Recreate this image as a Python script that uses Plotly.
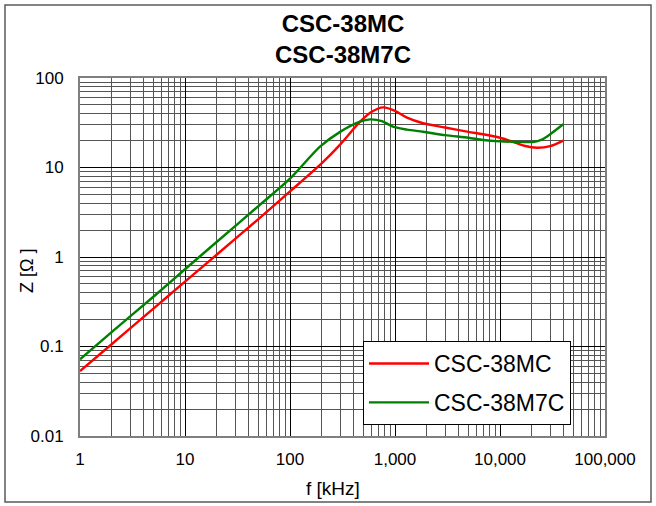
import plotly.graph_objects as go

# Data (frequency in kHz, impedance in ohm)
f_38mc = [1, 2, 5, 10, 20, 50, 100, 200, 300, 465, 600, 770, 1000, 1300, 1850, 3000, 5000, 6900, 10000, 13200, 17000, 22500, 30000, 40000]
z_38mc = [0.053, 0.106, 0.265, 0.53, 1.06, 2.65, 5.4, 11.1, 18, 32.5, 42, 47, 43, 36, 31.2, 28, 25, 23.5, 21.5, 19.4, 17.5, 16.6, 17.3, 20]

f_38m7c = [1, 2, 5, 10, 20, 50, 100, 193, 300, 465, 578, 750, 955, 1300, 1850, 3000, 5000, 6900, 10000, 13200, 20600, 25000, 30000, 40000]
z_38m7c = [0.072, 0.145, 0.36, 0.73, 1.47, 3.7, 7.5, 17.1, 25, 32.5, 34.5, 33, 28.6, 26.5, 25.1, 23, 21.5, 20.3, 19.6, 19.4, 19.3, 20.5, 23.5, 30.4]

x_tickvals = [1, 10, 100, 1000, 10000, 100000]
x_ticktext = ["1", "10", "100", "1,000", "10,000", "100,000"]
y_tickvals = [0.01, 0.1, 1, 10, 100]
y_ticktext = ["0.01", "0.1", "1", "10", "100"]

title_lines = ["CSC-38MC", "CSC-38M7C"]
x_title = "f [kHz]"
y_title = "Z [Ω ]"

fig = go.Figure()
fig.add_trace(go.Scatter(x=f_38mc, y=z_38mc, mode="lines", name="CSC-38MC",
                         legendgroup="a",
                         line=dict(color="#FF0000", width=2.4, shape="spline", smoothing=0.8)))
fig.add_trace(go.Scatter(x=f_38m7c, y=z_38m7c, mode="lines", name="CSC-38M7C",
                         legendgroup="b",
                         line=dict(color="#008000", width=2.4, shape="spline", smoothing=0.8)))

L, R, T, B = 80, 605, 78, 436
W, H = 656, 506

def px(x):
    return (x - L) / (R - L)

def py(y):
    return (B - y) / (B - T)

FONT = "Arial, Liberation Sans, sans-serif"

annotations = [
    dict(text="<b>" + "<br>".join(title_lines) + "</b>", x=px(342.5), y=py(39.5), xref="paper", yref="paper",
         showarrow=False, xanchor="center", yanchor="middle", align="center",
         font=dict(size=24, family=FONT, color="black")),
    dict(text=x_title, x=px(333), y=py(488), xref="paper", yref="paper",
         showarrow=False, xanchor="center", yanchor="middle", font=dict(size=19, family=FONT, color="black")),
    dict(text=y_title, x=px(27), y=py(271), xref="paper", yref="paper", textangle=-90,
         showarrow=False, xanchor="center", yanchor="middle", font=dict(size=18, family=FONT, color="black")),
]

fig.update_layout(
    width=W, height=H,
    margin=dict(l=L, r=W - R, t=T, b=H - B),
    paper_bgcolor="white", plot_bgcolor="white",
    font=dict(family=FONT, color="black", size=17),
    showlegend=True,
    legend=dict(x=px(363), y=py(341), xanchor="left", yanchor="top",
                bgcolor="white", bordercolor="black", borderwidth=1,
                font=dict(size=23), traceorder="grouped", tracegroupgap=6,
                itemwidth=60),
    xaxis=dict(type="log", range=[0, 5], tickvals=x_tickvals, ticktext=x_ticktext,
               showgrid=True, gridcolor="black", gridwidth=1,
               minor=dict(showgrid=True, gridcolor="#555555", gridwidth=1, dtick="D1"),
               showline=True, linecolor="#7f7f7f", linewidth=2, mirror=True,
               ticks="", zeroline=False, ticklabelstandoff=7),
    yaxis=dict(type="log", range=[-2, 2], tickvals=y_tickvals, ticktext=y_ticktext,
               showgrid=True, gridcolor="black", gridwidth=1,
               minor=dict(showgrid=True, gridcolor="#555555", gridwidth=1, dtick="D1"),
               showline=True, linecolor="#7f7f7f", linewidth=2, mirror=True,
               ticks="", zeroline=False, ticklabelstandoff=11),
    annotations=annotations,
    shapes=[dict(type="rect", xref="paper", yref="paper",
                 x0=px(5), x1=px(651), y0=py(502), y1=py(5),
                 line=dict(color="#595959", width=1.5), fillcolor="rgba(0,0,0,0)",
                 layer="below")],
)

fig.write_html("out.html", config={"displayModeBar": False},
               post_script="document.body.style.margin='0';document.body.style.overflow='hidden';")
